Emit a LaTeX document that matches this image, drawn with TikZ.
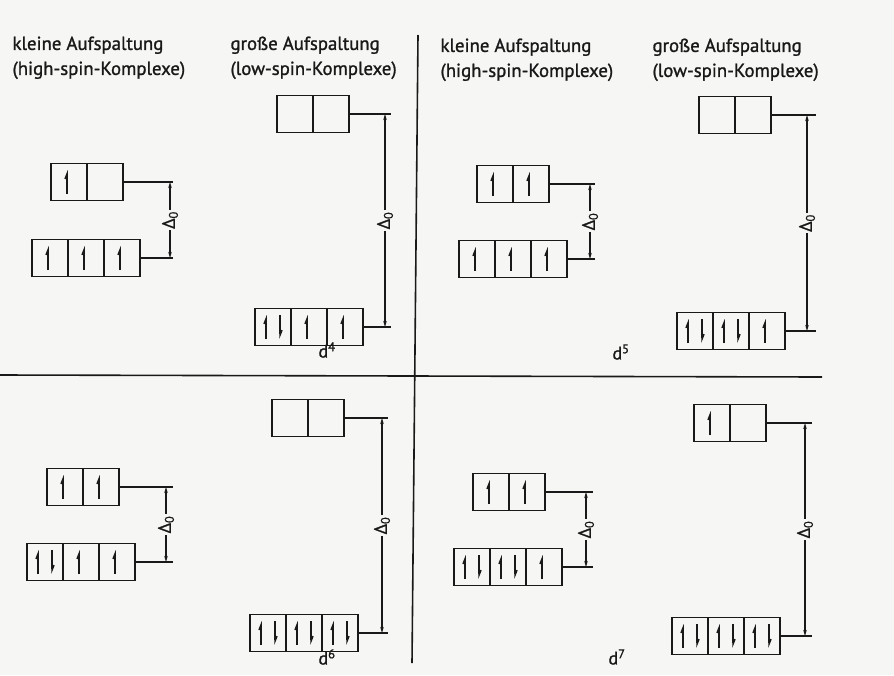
\documentclass[tikz,border=0pt]{standalone}
\usepackage{fontspec}
\setmainfont[FakeBold=1.2]{PT Sans}
\usetikzlibrary{arrows.meta,calc}
\definecolor{paper}{RGB}{246,246,244}
\definecolor{ink}{RGB}{25,25,25}
\tikzset{
 cellbox/.style={draw=ink, line width=1.4pt, minimum width=36pt, minimum height=37pt, inner sep=0pt, outer sep=0pt},
 elec/.style={draw=ink, line width=1.5pt, -{Straight Barb[left,length=5pt,width=4pt]}},
 lead/.style={draw=ink, line width=1.1pt},
 dimline/.style={draw=ink, line width=1.1pt, {Stealth[length=6pt,width=3.5pt]}-{Stealth[length=6pt,width=3.5pt]}},
 dimlabel/.style={rotate=90, fill=paper, inner sep=1.5pt, font=\fontsize{18}{18}\selectfont, text=ink},
 heading/.style={anchor=north west, align=left, font=\fontsize{18.8}{25}\selectfont, text=ink},
 dlabel/.style={font=\fontsize{18}{18}\selectfont, text=ink},
 divider/.style={draw=ink, line width=1.6pt},
}
\newcommand\orbrow[4]{%
 \foreach \c [count=\i] in {#4} {
   \node[cellbox] (#1\i) at ({#2+18+(\i-1)*36}, #3) {};
   \ifcase\c\relax
   \or \draw[elec] ($(#1\i.center)+(-2,12)$) -- ($(#1\i.center)+(-2,-12)$);
   \or \draw[elec] ($(#1\i.center)+(-7,12)$) -- ($(#1\i.center)+(-7,-12)$);
       \draw[elec] ($(#1\i.center)+(7,-12)$) -- ($(#1\i.center)+(7,12)$);
   \fi
 }
}
\newcommand\splitdim[5]{%
 \coordinate (#5e) at (#3,0);
 \coordinate (#5d) at (#4,0);
 \draw[lead] (#1.east) -- (#1.east -| #5e);
 \draw[lead] (#2.east) -- (#2.east -| #5e);
 \draw[dimline] (#1.east -| #5d) -- (#2.east -| #5d) node[midway, dimlabel] (#5l) {Δ\textsubscript{0}};
}
\begin{document}
\begin{tikzpicture}[x=1pt,y=-1pt]
\fill[paper] (0,0) rectangle (894,675);
\useasboundingbox (0,0) rectangle (894,675);
% headings
\node[heading] (h1) at (9,33) {kleine Aufspaltung\\(high-spin-Komplexe)};
\node[heading] (h2) at (227,33) {große Aufspaltung\\(low-spin-Komplexe)};
\node[heading] (h3) at (437,35) {kleine Aufspaltung\\(high-spin-Komplexe)};
\node[heading] (h4) at (649,35) {große Aufspaltung\\(low-spin-Komplexe)};
% dividers
\coordinate (vt) at (418,35);
\coordinate (vb) at (412,663);
\coordinate (hl) at (0,375);
\coordinate (hr) at (822,377);
\draw[divider] (vt) -- (vb);
\draw[divider] (hl) -- (hr);
% d4
\orbrow{A}{51}{182}{1,0}
\orbrow{B}{32}{258}{1,1,1}
\splitdim{A2}{B3}{173}{170}{AB}
\orbrow{C}{277}{114}{0,0}
\orbrow{D}{255}{327}{2,1,1}
\splitdim{C2}{D3}{391}{385}{CD}
\node[dlabel] (d4) at (327,350) {d\textsuperscript{4}};
% d5
\orbrow{E}{477}{184}{1,1}
\orbrow{F}{459}{259}{1,1,1}
\splitdim{E2}{F3}{595}{590}{EF}
\orbrow{G}{699}{115}{0,0}
\orbrow{H}{677}{331}{2,2,1}
\splitdim{G2}{H3}{816}{807}{GH}
\node[dlabel] (d5) at (621,352) {d\textsuperscript{5}};
% d6
\orbrow{I}{47}{487}{1,1}
\orbrow{J}{27}{562}{2,1,1}
\splitdim{I2}{J3}{173}{166}{IJ}
\orbrow{K}{272}{418}{0,0}
\orbrow{L}{250}{633}{2,2,2}
\splitdim{K2}{L3}{388}{382}{KL}
\node[dlabel] (d6) at (327,657) {d\textsuperscript{6}};
% d7
\orbrow{M}{473}{492}{1,1}
\orbrow{N}{454}{567}{2,2,1}
\splitdim{M2}{N3}{593}{586}{MN}
\orbrow{O}{694}{423}{1,0}
\orbrow{P}{672}{636}{2,2,2}
\splitdim{O2}{P3}{812}{805}{OP}
\node[dlabel] (d7) at (617,657) {d\textsuperscript{7}};
\end{tikzpicture}
\end{document}
